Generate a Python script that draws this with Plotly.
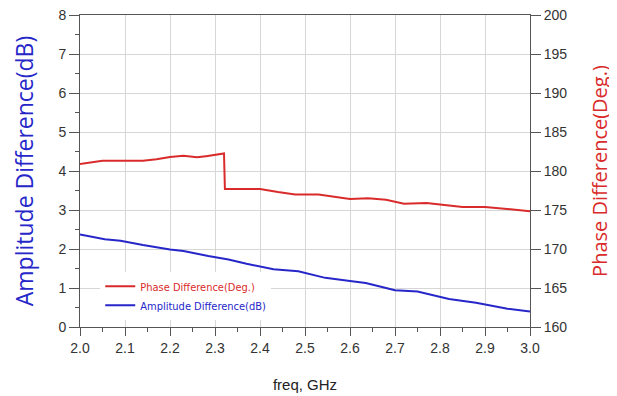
import plotly.graph_objects as go

# Phase difference (deg), right axis
phase_freq = [2.0, 2.05, 2.1, 2.14, 2.17, 2.2, 2.23, 2.26, 2.28, 2.3, 2.32, 2.322,
              2.35, 2.4, 2.44, 2.478, 2.53, 2.6, 2.64, 2.68, 2.72, 2.77, 2.8,
              2.85, 2.9, 2.95, 3.0]
phase_vals = [180.9, 181.3, 181.3, 181.3, 181.5, 181.8, 181.95, 181.75, 181.9, 182.1, 182.25, 177.7,
              177.7, 177.7, 177.3, 177.0, 177.0, 176.4, 176.5, 176.3, 175.8, 175.9, 175.7,
              175.4, 175.4, 175.1, 174.85]

# Amplitude difference (dB), left axis
amp_freq = [2.0, 2.055, 2.09, 2.14, 2.2, 2.23, 2.285, 2.33, 2.37, 2.43, 2.485, 2.545,
            2.6, 2.635, 2.68, 2.7, 2.75, 2.82, 2.88, 2.95, 3.0]
amp_vals = [2.37, 2.25, 2.21, 2.10, 1.99, 1.95, 1.82, 1.73, 1.62, 1.48, 1.43, 1.26,
            1.18, 1.13, 1.00, 0.94, 0.91, 0.72, 0.62, 0.47, 0.40]

x_ticks = [2.0, 2.1, 2.2, 2.3, 2.4, 2.5, 2.6, 2.7, 2.8, 2.9, 3.0]
x_ticklabels = ["2.0", "2.1", "2.2", "2.3", "2.4", "2.5", "2.6", "2.7", "2.8", "2.9", "3.0"]

RED = "#d92b2b"
BLUE = "#2626c9"
AXIS = "#555555"
TICKFONT = dict(family="Liberation Sans, Arial, sans-serif", size=14, color="#333333")

fig = go.Figure()
fig.add_trace(go.Scatter(
    x=phase_freq, y=phase_vals, yaxis="y2", mode="lines",
    line=dict(color=RED, width=2),
    name="<span style='color:%s'>Phase Difference(Deg.)</span>" % RED,
))
fig.add_trace(go.Scatter(
    x=amp_freq, y=amp_vals, yaxis="y", mode="lines",
    line=dict(color=BLUE, width=2),
    name="<span style='color:%s'>Amplitude Difference(dB)</span>" % BLUE,
))

# page body has an 8px default margin, so the figure is sized to fit the window
fig.update_layout(
    width=609, height=388,
    margin=dict(l=72, r=87, t=7, b=69, autoexpand=False),
    paper_bgcolor="white", plot_bgcolor="white",
    showlegend=True,
    legend=dict(
        x=0.045, y=0.10, xanchor="left", yanchor="middle",
        bgcolor="white", borderwidth=0,
        font=dict(family="DejaVu Sans Condensed, Liberation Sans Narrow, sans-serif", size=11),
        itemwidth=30, tracegroupgap=0,
    ),
    xaxis=dict(
        range=[2.0, 3.0], tickmode="array", tickvals=x_ticks, ticktext=x_ticklabels,
        showgrid=True, gridcolor="#d6d6d6", gridwidth=1,
        showline=True, linecolor=AXIS, linewidth=1, mirror=True,
        ticks="outside", ticklen=8, tickcolor=AXIS,
        minor=dict(dtick=0.05, ticks="outside", ticklen=4, tickcolor=AXIS, showgrid=False),
        tickfont=TICKFONT, zeroline=False, automargin=False, ticklabeloverflow="allow",
        title=dict(text="freq, GHz", font=dict(family="Liberation Sans, Arial, sans-serif", size=15, color="#222222"),
                   standoff=24),
    ),
    yaxis=dict(
        range=[0, 8], dtick=1, tick0=0,
        showgrid=True, gridcolor="#d6d6d6", gridwidth=1,
        showline=True, linecolor=AXIS, linewidth=1,
        ticks="outside", ticklen=10, tickcolor=AXIS,
        minor=dict(dtick=0.5, ticks="outside", ticklen=4, tickcolor=AXIS, showgrid=False),
        tickfont=TICKFONT, zeroline=False, automargin=False, ticklabeloverflow="allow",
        title=dict(text="Amplitude Difference(dB)", font=dict(family="Open Sans, sans-serif", size=23, color=BLUE),
                   standoff=24),
    ),
    yaxis2=dict(
        range=[160, 200], dtick=5, tick0=160, overlaying="y", side="right",
        showgrid=False,
        showline=True, linecolor=AXIS, linewidth=1,
        ticks="outside", ticklen=10, tickcolor=AXIS,
        tickfont=TICKFONT, zeroline=False, automargin=False, ticklabeloverflow="allow",
        title=dict(text="Phase Difference(Deg.)", font=dict(family="Open Sans, sans-serif", size=20, color=RED),
                   standoff=26),
    ),
)

fig.write_html("out.html")
